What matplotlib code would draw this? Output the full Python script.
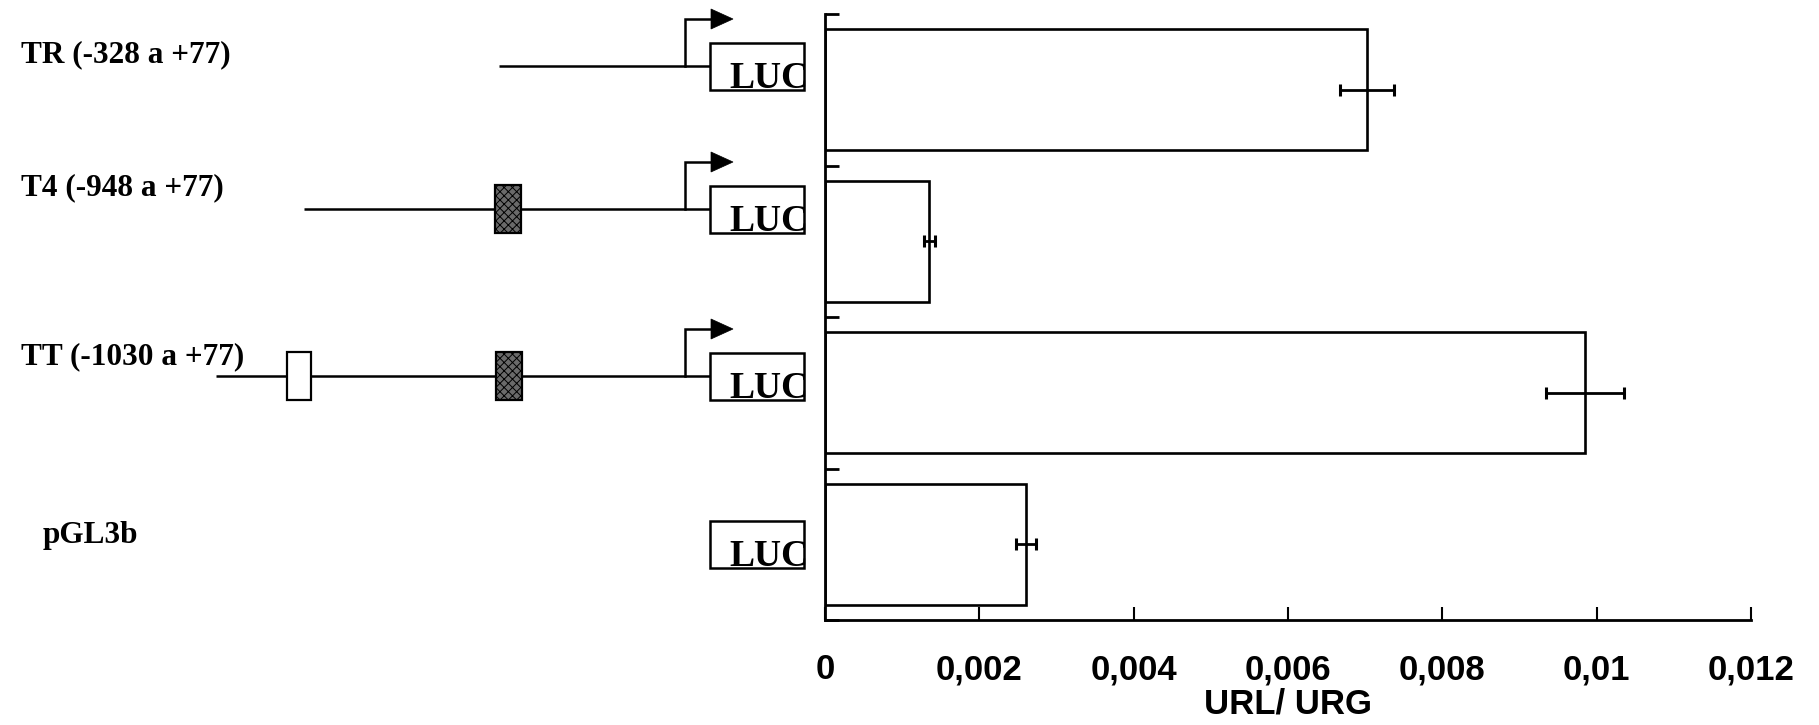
import matplotlib
matplotlib.use("Agg")
import matplotlib.pyplot as plt
from matplotlib.patches import Rectangle, Polygon

# ---------------- data ----------------
constructs = ["TR (-328 a +77)", "T4 (-948 a +77)", "TT (-1030 a +77)", "pGL3b"]
values = [0.00703, 0.00135, 0.00985, 0.00260]
errors = [0.00035, 0.00007, 0.00051, 0.00013]
xticks = [0, 0.002, 0.004, 0.006, 0.008, 0.010, 0.012]
xtick_labels = ["0", "0,002", "0,004", "0,006", "0,008", "0,01", "0,012"]
xlabel = "URL/ URG"
reporter = "LUC"

# ---------------- schematic layout (figure pixel space) ----------------
W, H = 1819, 725
label_pos = [(21, 55), (21, 188), (21, 357), (43, 536)]
line_y = [66, 209, 376, 544]
line_x0 = [499, 304, 216, None]
has_arrow = [True, True, True, False]
open_boxes = [[], [], [(287, 311)], []]
shaded_boxes = [[], [(495, 521)], [(496, 522)], []]
luc_x = (710, 804)
luc_h = 47
elem_h = 48
arrow_x = 685
arrow_rise = 47

plt.rcParams["hatch.linewidth"] = 0.7
plt.rcParams["hatch.color"] = "#222222"

fig = plt.figure(figsize=(W / 100, H / 100), dpi=100)

# overlay axes for the construct diagrams (pixel coordinates)
dax = fig.add_axes([0, 0, 1, 1], zorder=0)
dax.set_xlim(0, W)
dax.set_ylim(H, 0)
dax.axis("off")

serif = ["Liberation Serif", "DejaVu Serif"]
for i, name in enumerate(constructs):
    lx, ly = label_pos[i]
    dax.text(lx, ly, name, ha="left", va="center", fontsize=22.5,
             fontweight="bold", family=serif, color="black")
    y = line_y[i]
    if line_x0[i] is not None:
        dax.plot([line_x0[i], luc_x[0]], [y, y], color="black", lw=1.8,
                 solid_capstyle="butt", zorder=1)
    if has_arrow[i]:
        top = y - arrow_rise
        dax.plot([arrow_x, arrow_x, 712], [y, top, top], color="black",
                 lw=1.8, solid_joinstyle="miter", zorder=2)
        dax.add_patch(Polygon([[711, top - 10], [733, top], [711, top + 10]],
                              closed=True, facecolor="black",
                              edgecolor="black", lw=0.5, zorder=2))
    for (x0, x1) in open_boxes[i]:
        dax.add_patch(Rectangle((x0, y - elem_h / 2), x1 - x0, elem_h,
                                facecolor="white", edgecolor="black",
                                lw=1.6, zorder=3))
    for (x0, x1) in shaded_boxes[i]:
        dax.add_patch(Rectangle((x0, y - elem_h / 2), x1 - x0, elem_h,
                                facecolor="#6a6a6a", edgecolor="black",
                                hatch="xxxx", lw=1.6, zorder=3))
    box = Rectangle((luc_x[0], y - luc_h / 2), luc_x[1] - luc_x[0], luc_h,
                    facecolor="white", edgecolor="black", lw=1.8, zorder=3)
    dax.add_patch(box)
    t = dax.text(luc_x[0] + 19, y + luc_h / 2 - 2, reporter, ha="left",
                 va="baseline", fontsize=27, fontweight="bold", family=serif,
                 color="black", zorder=4)
    clip = Rectangle((luc_x[0], y - luc_h / 2), luc_x[1] - luc_x[0] - 1, luc_h,
                     transform=dax.transData, facecolor="none", edgecolor="none")
    t.set_clip_path(clip)

# ---------------- bar chart ----------------
left, right = 825 / W, 1751 / W
bottom, top = (H - 620) / H, (H - 14) / H
ax = fig.add_axes([left, bottom, right - left, top - bottom], zorder=1)
ax.patch.set_alpha(0)

ypos = [i + 0.5 for i in range(len(constructs))]
ax.barh(ypos, values, height=0.8, color="white", edgecolor="black",
        linewidth=1.9, zorder=2)
ax.errorbar(values, ypos, xerr=errors, fmt="none", ecolor="black",
            elinewidth=2.0, capsize=4, capthick=2.2, zorder=3)

ax.set_xlim(0, 0.012)
ax.set_ylim(len(constructs), 0)
ax.set_xticks(xticks)
ax.set_xticklabels(xtick_labels)
ax.set_yticks(range(len(constructs) + 1))
ax.set_yticklabels([])

for s in ["top", "right"]:
    ax.spines[s].set_visible(False)
for s in ["left", "bottom"]:
    ax.spines[s].set_linewidth(2.0)
    ax.spines[s].set_color("black")

ax.tick_params(axis="x", direction="in", length=9.5, width=1.5, pad=24,
               labelsize=25)
ax.tick_params(axis="y", direction="in", length=10, width=2.0)
for lab in ax.get_xticklabels():
    lab.set_fontweight("bold")
    lab.set_family(["Liberation Sans", "DejaVu Sans"])

ax.set_xlabel(xlabel, fontsize=25, fontweight="bold",
              family=["Liberation Sans", "DejaVu Sans"], labelpad=1)

fig.savefig("out.png", dpi=100, facecolor="white")
